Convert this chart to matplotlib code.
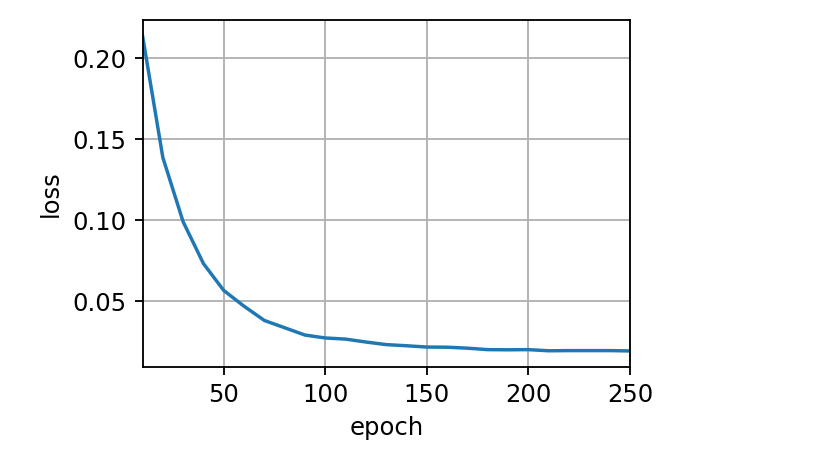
import matplotlib
matplotlib.use("Agg")
import matplotlib.pyplot as plt

# loss values, one per 10 epochs
epochs = [10, 20, 30, 40, 50, 60, 70, 80, 90, 100, 110, 120, 130,
          140, 150, 160, 170, 180, 190, 200, 210, 220, 230, 240, 250]
loss = [0.2139, 0.1387, 0.0990, 0.0732, 0.0566, 0.0469, 0.0381, 0.0336,
        0.0291, 0.0273, 0.0266, 0.0248, 0.0232, 0.0225, 0.0217, 0.0216,
        0.0210, 0.0201, 0.0200, 0.0201, 0.0194, 0.0195, 0.0195, 0.0195,
        0.0193]

plt.rcParams["font.size"] = 10.6

fig = plt.figure(figsize=(822 / 165, 470 / 165), dpi=165)
ax = fig.add_axes([0.1734, 0.2198, 0.593, 0.7377])
ax.plot(epochs, loss, color="#1f77b4", linewidth=1.5)
ax.set_xlim(10, 250)
ax.set_xlabel("epoch")
ax.set_ylabel("loss")
ax.grid(True)

fig.savefig("out.png", dpi=165)
